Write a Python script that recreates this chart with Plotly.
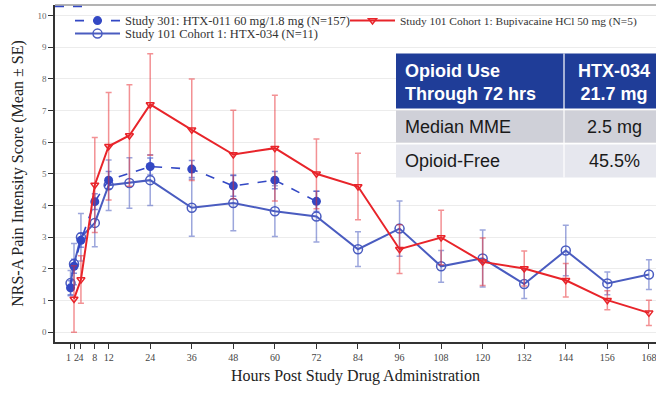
import plotly.graph_objects as go

# ---- data -------------------------------------------------------------
hours_htx011 = [1, 2, 4, 8, 12, 24, 36, 48, 60, 72]
mean_htx011 = [1.40, 2.08, 2.90, 4.12, 4.80, 5.23, 5.15, 4.62, 4.80, 4.13]
se_htx011 = [0.22, 0.22, 0.22, 0.25, 0.27, 0.27, 0.27, 0.33, 0.27, 0.32]

hours_htx034 = [1, 2, 4, 8, 12, 18, 24, 36, 48, 60, 72, 84, 96, 108, 120, 132, 144, 156, 168]
mean_htx034 = [1.55, 2.15, 3.00, 3.45, 4.64, 4.71, 4.80, 3.93, 4.08, 3.82, 3.65, 2.62, 3.27,
               2.08, 2.33, 1.52, 2.58, 1.54, 1.82]
se_htx034 = [0.40, 0.65, 0.75, 0.75, 0.80, 0.80, 0.80, 0.90, 0.88, 0.80, 0.80, 0.55, 0.87,
             0.50, 0.90, 0.46, 0.80, 0.36, 0.47]

hours_bupi = [2, 4, 8, 12, 18, 24, 36, 48, 60, 72, 84, 96, 108, 120, 132, 144, 156, 168]
mean_bupi = [1.05, 1.66, 4.65, 5.87, 6.21, 7.19, 6.39, 5.61, 5.81, 5.00, 4.60, 2.62, 2.99,
             2.22, 2.01, 1.64, 1.01, 0.61]
se_bupi = [1.05, 0.75, 1.50, 1.70, 1.60, 1.60, 1.60, 1.40, 1.67, 1.10, 1.05, 0.77, 0.86,
           0.75, 0.55, 0.53, 0.30, 0.40]

x_ticks = [1, 2, 4, 8, 12, 24, 36, 48, 60, 72, 84, 96, 108, 120, 132, 144, 156, 168]
x_tick_text = ["", "", "4", "8", "12", "24", "36", "48", "60", "72", "84", "96", "108",
               "120", "132", "144", "156", "168"]
y_ticks = list(range(0, 11))

table_header = ["Opioid Use<br>Through 72 hrs", "HTX-034<br>21.7 mg"]
table_rows = [["Median MME", "2.5 mg"], ["Opioid-Free", "45.5%"]]

# ---- page geometry (pixels) ------------------------------------------
W, H = 656, 399
L, R, T, B = 55, 0, 4.5, 57.3
PW, PH = W - L - R, H - T - B


def px(x):
    return (x - L) / PW


def py(y):
    return (H - B - y) / PH


RED = "#e8242a"
BLUE_OPEN = "#4a5cc0"
BLUE_FILL = "#3348c4"
SERIF = "Liberation Serif, Times New Roman, serif"
SANS = "Liberation Sans, Arial, sans-serif"

fig = go.Figure()

fig.add_trace(go.Scatter(
    x=hours_htx034, y=mean_htx034, mode="lines+markers",
    name="Study 101 Cohort 1: HTX-034 (N=11)", legend="legend3",
    line=dict(color=BLUE_OPEN, width=2),
    marker=dict(symbol="circle-open", size=9, color=BLUE_OPEN, line=dict(width=1.5)),
    error_y=dict(type="data", array=se_htx034, visible=True,
                 color="rgba(74,92,192,0.55)", thickness=1.5, width=3),
))

fig.add_trace(go.Scatter(
    x=hours_htx011, y=mean_htx011, mode="lines+markers",
    name="Study 301: HTX-011 60 mg/1.8 mg (N=157)", legend="legend",
    line=dict(color=BLUE_FILL, width=1.6, dash="dash"),
    marker=dict(symbol="circle", size=9, color=BLUE_FILL),
    error_y=dict(type="data", array=se_htx011, visible=True,
                 color="rgba(51,72,196,0.6)", thickness=1.5, width=3),
))

fig.add_trace(go.Scatter(
    x=hours_bupi, y=mean_bupi, mode="lines+markers",
    name="Study 101 Cohort 1: Bupivacaine HCl 50 mg (N=5)", legend="legend2",
    line=dict(color=RED, width=2),
    marker=dict(symbol="triangle-down-open", size=7, color=RED, line=dict(width=1.5)),
    error_y=dict(type="data", array=se_bupi, visible=True,
                 color="rgba(232,36,42,0.5)", thickness=1.5, width=3),
))

# ---- inset table drawn with shapes and annotations --------------------
shapes = [
    dict(type="rect", xref="paper", yref="paper", x0=px(396), x1=px(656), y0=py(108), y1=py(53),
         fillcolor="#1f3d98", line=dict(width=0), layer="above"),
    dict(type="rect", xref="paper", yref="paper", x0=px(396), x1=px(656), y0=py(142), y1=py(110),
         fillcolor="#cfd0d8", line=dict(width=0), layer="above"),
    dict(type="rect", xref="paper", yref="paper", x0=px(396), x1=px(656), y0=py(177), y1=py(144),
         fillcolor="#e6e7ee", line=dict(width=0), layer="above"),
    dict(type="line", xref="paper", yref="paper", x0=px(564), x1=px(564), y0=py(177), y1=py(53),
         line=dict(color="rgba(255,255,255,0.8)", width=1.5), layer="above"),
    # top frame line
    dict(type="line", xref="paper", yref="paper", x0=0, x1=1, y0=1, y1=1,
         line=dict(color="#9a9a9a", width=1.5)),
    dict(type="line", xref="paper", yref="paper", x0=0, x1=px(86), y0=py(6), y1=py(6),
         line=dict(color=BLUE_FILL, width=1.5, dash="dash")),
]

annotations = [
    dict(text="<b>" + table_header[0] + "</b>", xref="paper", yref="paper",
         x=px(403), y=py(82), xanchor="left", yanchor="middle", align="left", showarrow=False,
         font=dict(family=SANS, size=18, color="white")),
    dict(text="<b>" + table_header[1] + "</b>", xref="paper", yref="paper",
         x=px(614), y=py(82), xanchor="center", yanchor="middle", align="center", showarrow=False,
         font=dict(family=SANS, size=18, color="white")),
]
for row, yc in zip(table_rows, [127, 161]):
    annotations.append(dict(text=row[0], xref="paper", yref="paper", x=px(403), y=py(yc),
                            xanchor="left", yanchor="middle", showarrow=False,
                            font=dict(family=SANS, size=18, color="#1a1a1a")))
    annotations.append(dict(text=row[1], xref="paper", yref="paper", x=px(614), y=py(yc),
                            xanchor="center", yanchor="middle", showarrow=False,
                            font=dict(family=SANS, size=18, color="#1a1a1a")))

# the crowded first two hour labels sit on either side of their ticks
tick_font = dict(family=SERIF, size=10, color="#444")
annotations.append(dict(text="1", xref="x", yref="paper", x=1, y=py(357), xanchor="right",
                        yanchor="middle", showarrow=False, xshift=1, font=tick_font,
                        borderpad=0))
annotations.append(dict(text="2", xref="x", yref="paper", x=2, y=py(357), xanchor="left",
                        yanchor="middle", showarrow=False, xshift=-1, font=tick_font,
                        borderpad=0))

legend_common = dict(orientation="h", xanchor="left", yanchor="top", itemwidth=45,
                     bgcolor="rgba(0,0,0,0)")

fig.update_layout(
    width=W, height=H,
    margin=dict(l=L, r=R, t=T, b=B, pad=0),
    paper_bgcolor="white", plot_bgcolor="white",
    showlegend=True,
    legend=dict(x=px(70), y=py(5.5), font=dict(family=SERIF, size=12.5, color="#333"),
                **legend_common),
    legend2=dict(x=px(345), y=py(5.5), font=dict(family=SERIF, size=11.4, color="#333"),
                 **legend_common),
    legend3=dict(x=px(70), y=py(18.5), font=dict(family=SERIF, size=12.5, color="#333"),
                 **legend_common),
    shapes=shapes,
    annotations=annotations,
    xaxis=dict(
        range=[-3.49, 170.05], tickmode="array", tickvals=x_ticks,
        ticktext=x_tick_text, tickangle=0, ticklabeloverflow="allow",
        ticks="outside", ticklen=5, tickwidth=1, tickcolor="#333",
        showline=True, linecolor="#333", linewidth=1.5, showgrid=False, zeroline=False,
        tickfont=tick_font,
        title=dict(text="Hours Post Study Drug Administration", standoff=8,
                   font=dict(family=SERIF, size=16, color="#222")),
    ),
    yaxis=dict(
        range=[-0.31, 10.33], tickmode="array", tickvals=y_ticks,
        ticks="outside", ticklen=5, tickwidth=1, tickcolor="#333",
        showline=True, linecolor="#333", linewidth=1.5,
        showgrid=True, gridcolor="#ececec", gridwidth=1, zeroline=False,
        tickfont=dict(family=SERIF, size=9, color="#666"),
        title=dict(text="NRS-A Pain Intensity Score (Mean ± SE)", standoff=10,
                   font=dict(family=SERIF, size=16, color="#222")),
    ),
)

fig.write_html("out.html")
